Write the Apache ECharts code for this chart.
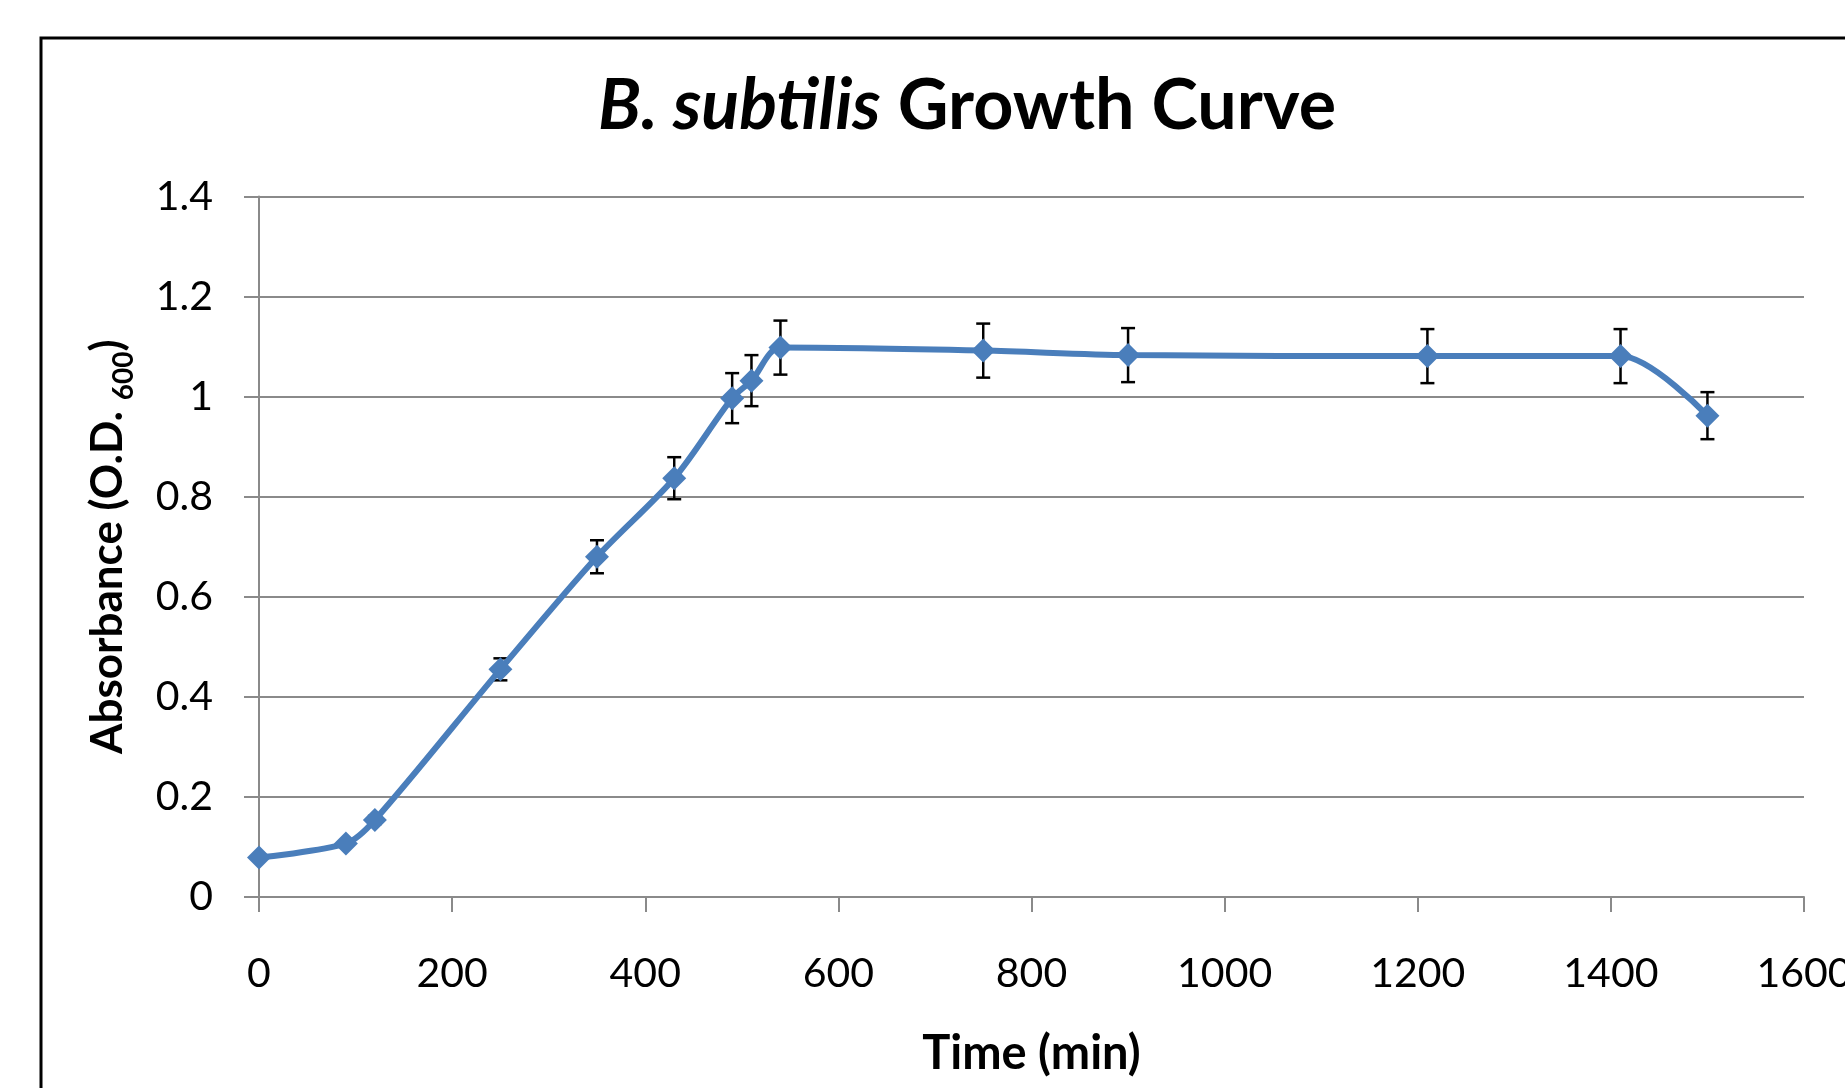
<!DOCTYPE html>
<html>
<head>
<meta charset="utf-8">
<title>B. subtilis Growth Curve</title>
<script src="https://cdn.jsdelivr.net/npm/echarts@6/dist/echarts.min.js"></script>
<style>
    html, body { margin: 0; padding: 0; background: #fff; }
    #chart { width: 1845px; height: 1088px; }
</style>
</head>
<body>
<div id="chart"></div>
<script>
    // readings taken off the plot
    var timeMin = [0, 90, 120, 250, 350, 430, 490, 510, 540, 750, 900, 1210, 1410, 1500];
    var absorbance = [0.079, 0.107, 0.154, 0.455, 0.68, 0.837, 0.997, 1.032, 1.098, 1.092, 1.083, 1.081, 1.081, 0.962];
    var errorOD = [0.005, 0.005, 0.008, 0.022, 0.033, 0.042, 0.05, 0.051, 0.054, 0.054, 0.054, 0.054, 0.054, 0.047];
    var xTicks = [0, 200, 400, 600, 800, 1000, 1200, 1400, 1600];
    var yTicks = [0, 0.2, 0.4, 0.6, 0.8, 1, 1.2, 1.4];

    var lineData = timeMin.map(function (t, i) {
        return [t, absorbance[i]];
    });
    var errData = timeMin.map(function (t, i) {
        return [t, absorbance[i] - errorOD[i], absorbance[i] + errorOD[i]];
    });

    var font = "Lato";
    var gridColor = "#8a8a8a";
    var chart = echarts.init(document.getElementById("chart"));

    var option = {
        animation: false,
        title: {
            text: "{i|B. subtilis}{b| Growth Curve}",
            left: 962,
            top: 66,
            textAlign: "center",
            textStyle: {
                rich: {
                    i: { fontFamily: font, fontSize: 70, fontWeight: "bold", fontStyle: "italic", color: "#000" },
                    b: { fontFamily: font, fontSize: 70, fontWeight: "bold", color: "#000" },
                },
            },
        },
        graphic: [
            {
                type: "rect",
                shape: { x: 41, y: 38, width: 2000, height: 2000 },
                style: { fill: null, stroke: "#000", lineWidth: 3 },
                silent: true,
            },
        ],
        grid: {
            left: 259,
            right: 41,
            top: 196.5,
            bottom: 191,
            outerBoundsMode: "none",
        },
        xAxis: {
            type: "value",
            min: xTicks[0],
            max: xTicks[xTicks.length - 1],
            interval: xTicks[1] - xTicks[0],
            name: "Time (min)",
            nameLocation: "middle",
            nameGap: 133,
            nameTextStyle: { fontFamily: font, fontSize: 47, fontWeight: "bold", color: "#000" },
            axisLine: { show: true, lineStyle: { color: gridColor, width: 2 } },
            axisTick: { show: true, length: 15, lineStyle: { color: gridColor, width: 2 } },
            axisLabel: {
                fontFamily: font, fontSize: 41, color: "#000", margin: 56,
                formatter: function (v) { return String(v); },
            },
            splitLine: { show: false },
        },
        yAxis: {
            type: "value",
            min: yTicks[0],
            max: yTicks[yTicks.length - 1],
            interval: 0.2,
            name: "{m|Absorbance (O.D. }{s|600}{m|)}",
            nameLocation: "middle",
            nameRotate: 90,
            nameGap: 121,
            nameTextStyle: {
                rich: {
                    m: { fontFamily: font, fontSize: 44, fontWeight: "bold", color: "#000", lineHeight: 60 },
                    s: { fontFamily: font, fontSize: 28, fontWeight: "bold", color: "#000", lineHeight: 28, verticalAlign: "bottom" },
                },
            },
            axisLine: { show: true, lineStyle: { color: gridColor, width: 2 } },
            axisTick: { show: true, length: 15, lineStyle: { color: gridColor, width: 2 } },
            axisLabel: { fontFamily: font, fontSize: 41, color: "#000", margin: 46 },
            splitLine: { show: true, lineStyle: { color: gridColor, width: 2 } },
        },
        series: [
            {
                name: "error",
                type: "custom",
                z: 1,
                data: errData,
                renderItem: function (params, api) {
                    var x = api.value(0);
                    var lo = api.coord([x, api.value(1)]);
                    var hi = api.coord([x, api.value(2)]);
                    var w = 7;
                    var style = { stroke: "#000", lineWidth: 2.5 };
                    return {
                        type: "group",
                        children: [
                            { type: "line", shape: { x1: lo[0], y1: lo[1], x2: hi[0], y2: hi[1] }, style: style },
                            { type: "line", shape: { x1: hi[0] - w, y1: hi[1], x2: hi[0] + w, y2: hi[1] }, style: style },
                            { type: "line", shape: { x1: lo[0] - w, y1: lo[1], x2: lo[0] + w, y2: lo[1] }, style: style },
                        ],
                    };
                },
            },
            {
                name: "OD600",
                type: "line",
                z: 3,
                smooth: 0.3,
                data: lineData,
                symbol: "diamond",
                symbolSize: 24,
                lineStyle: { color: "#4a7ebb", width: 6 },
                itemStyle: { color: "#4a7ebb" },
            },
        ],
    };
    chart.setOption(option);
</script>
</body>
</html>
